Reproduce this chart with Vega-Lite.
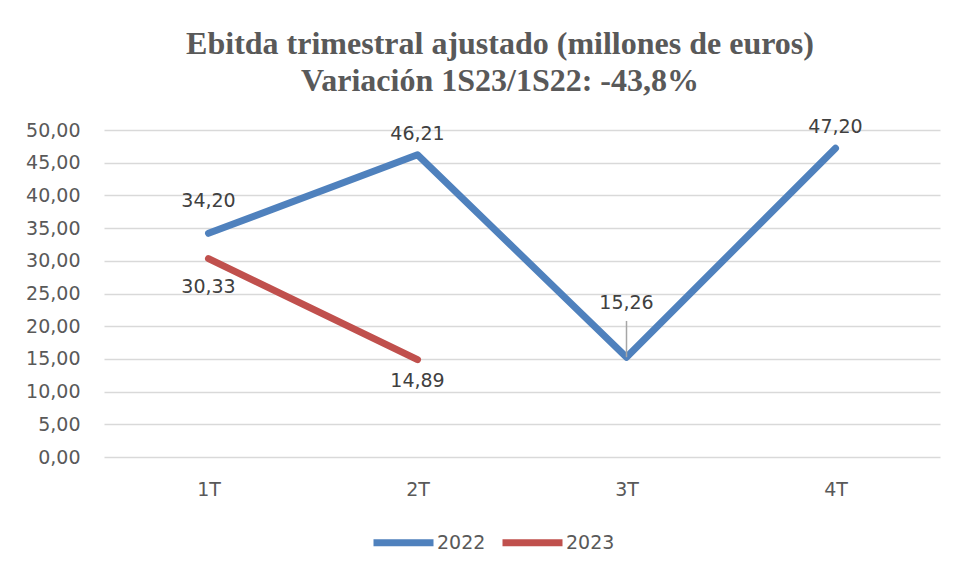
{
  "$schema": "https://vega.github.io/schema/vega-lite/v6.json",
  "width": 836,
  "height": 327,
  "autosize": {"type": "none"},
  "padding": {"left": 104, "top": 130, "right": 20, "bottom": 116},
  "background": "white",
  "title": {
    "text": ["Ebitda trimestral ajustado (millones de euros)", "Variación 1S23/1S22: -43,8%"],
    "font": "Liberation Serif",
    "fontSize": 32,
    "fontWeight": "bold",
    "color": "#595959",
    "lineHeight": 37,
    "anchor": "middle",
    "dx": -22,
    "offset": 20
  },
  "data": {
    "values": [
      {"trimestre": "1T", "serie": "2022", "valor": 34.20},
      {"trimestre": "2T", "serie": "2022", "valor": 46.21},
      {"trimestre": "3T", "serie": "2022", "valor": 15.26},
      {"trimestre": "4T", "serie": "2022", "valor": 47.20},
      {"trimestre": "1T", "serie": "2023", "valor": 30.33},
      {"trimestre": "2T", "serie": "2023", "valor": 14.89}
    ]
  },
  "encoding": {
    "x": {
      "field": "trimestre", "type": "ordinal",
      "scale": {"type": "point", "padding": 0.5, "domain": ["1T", "2T", "3T", "4T"]},
      "axis": {"title": null, "domain": false, "ticks": false, "labelAngle": 0, "labelFont": "DejaVu Sans", "labelFontSize": 19, "labelColor": "#595959", "labelPadding": 23, "grid": false}
    },
    "y": {
      "field": "valor", "type": "quantitative",
      "scale": {"domain": [0, 50], "nice": false},
      "axis": {"title": null, "domain": false, "ticks": false, "values": [0,5,10,15,20,25,30,35,40,45,50], "labelExpr": "replace(format(datum.value, '.2f'), '.', ',')", "labelFont": "DejaVu Sans", "labelFontSize": 19, "labelColor": "#595959", "labelPadding": 24, "gridColor": "#d9d9d9", "gridWidth": 1.5}
    }
  },
  "layer": [
    {
      "mark": {"type": "line", "strokeWidth": 7, "strokeCap": "round", "strokeJoin": "round"},
      "encoding": {
        "color": {
          "field": "serie", "type": "nominal",
          "scale": {"domain": ["2022", "2023"], "range": ["#4f81bd", "#c0504d"]},
          "legend": {"title": null, "orient": "none", "legendX": 266, "legendY": 379, "direction": "horizontal", "symbolType": "stroke", "symbolSize": 3600, "symbolStrokeWidth": 7, "labelFont": "DejaVu Sans", "labelFontSize": 19, "labelColor": "#595959", "labelOffset": 0, "columnPadding": 2}
        }
      }
    },
    {
      "transform": [{"filter": "datum.serie == '2022' && (datum.trimestre == '2T' || datum.trimestre == '4T')"}],
      "mark": {"type": "text", "dy": -21, "font": "DejaVu Sans", "fontSize": 19, "color": "#404040"},
      "encoding": {"text": {"field": "valor", "type": "quantitative", "format": ".2f"}}
    },
    {
      "transform": [{"filter": "datum.serie == '2022' && datum.trimestre == '1T'"}],
      "mark": {"type": "text", "dy": -32, "font": "DejaVu Sans", "fontSize": 19, "color": "#404040"},
      "encoding": {"text": {"field": "valor", "type": "quantitative", "format": ".2f"}}
    },
    {
      "transform": [{"filter": "datum.serie == '2022' && datum.trimestre == '3T'"}],
      "mark": {"type": "text", "dy": -54, "font": "DejaVu Sans", "fontSize": 19, "color": "#404040"},
      "encoding": {"text": {"field": "valor", "type": "quantitative", "format": ".2f"}}
    },
    {
      "transform": [{"filter": "datum.serie == '2022' && datum.trimestre == '3T'"}],
      "mark": {"type": "rule", "color": "#a6a6a6", "strokeWidth": 1.5},
      "encoding": {"y2": {"datum": 20.8}}
    },
    {
      "transform": [{"filter": "datum.serie == '2023' && datum.trimestre == '1T'"}],
      "mark": {"type": "text", "dy": 28, "font": "DejaVu Sans", "fontSize": 19, "color": "#404040"},
      "encoding": {"text": {"field": "valor", "type": "quantitative", "format": ".2f"}}
    },
    {
      "transform": [{"filter": "datum.serie == '2023' && datum.trimestre == '2T'"}],
      "mark": {"type": "text", "dy": 21, "font": "DejaVu Sans", "fontSize": 19, "color": "#404040"},
      "encoding": {"text": {"field": "valor", "type": "quantitative", "format": ".2f"}}
    }
  ],
  "config": {
    "locale": {"number": {"decimal": ",", "thousands": ".", "grouping": [3], "currency": ["", " €"]}},
    "view": {"stroke": null}
  }
}
